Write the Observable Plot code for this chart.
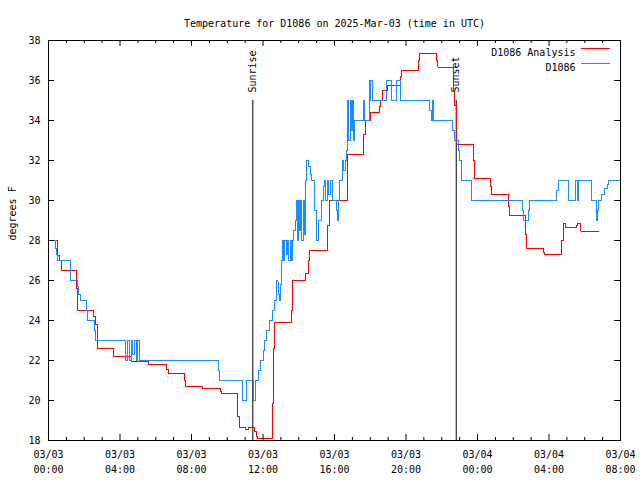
<!DOCTYPE html>
<html><head><meta charset="utf-8">
<script src="https://cdn.jsdelivr.net/npm/d3@7"></script>
<script src="https://cdn.jsdelivr.net/npm/@observablehq/plot@0.6"></script>
<style>body{margin:0;background:#fff}</style>
</head><body><div id="chart"></div>
<script>
const title = "Temperature for D1086 on 2025-Mar-03 (time in UTC)";
const yLabel = "degrees F";
const seriesNames = ["D1086 Analysis", "D1086"];
const seriesColors = ["#ff0000", "#1a8cff"];
const xTickHours = [0, 4, 8, 12, 16, 20, 24, 28, 32];
const xTickLabels = ["03/03\n00:00", "03/03\n04:00", "03/03\n08:00", "03/03\n12:00", "03/03\n16:00", "03/03\n20:00", "03/04\n00:00", "03/04\n04:00", "03/04\n08:00"];
const xMinorHours = [1,2,3,5,6,7,9,10,11,13,14,15,17,18,19,21,22,23,25,26,27,29,30,31];
const yTicks = [18, 20, 22, 24, 26, 28, 30, 32, 34, 36, 38];
const sunEvents = ["Sunrise", "Sunset"];
const sunHours = [11.43, 22.81];
const sunLineTop = 35;

// hours since 03/03 00:00 UTC, temperature (F)
const analysisHours = [0, 0.49, 0.6, 0.71, 1.57, 1.62, 2.54, 2.62, 2.73, 3.63, 4.64, 5.62, 6.6, 6.72, 7.6, 7.64, 8.6, 9.6, 9.68, 10.56, 10.6, 10.66, 11.0, 11.2, 11.55, 11.62, 11.7, 12.54, 12.58, 12.67, 13.6, 13.66, 14.4, 14.52, 14.62, 15.62, 15.72, 16.7, 17.62, 17.72, 18.0, 18.5, 18.57, 18.7, 18.95, 19.72, 19.77, 20.7, 20.76, 21.72, 21.79, 22.66, 22.72, 22.81, 23.75, 23.81, 24.72, 24.78, 25.72, 25.77, 26.7, 26.74, 27.72, 27.76, 28.7, 28.8, 28.94, 29.55, 29.6, 29.75, 29.78, 30.76];
const analysisTemps = [28, 27.25, 27, 26.5, 25.6, 24.5, 24.2, 23.8, 22.6, 22.2, 21.95, 21.8, 21.55, 21.37, 21.0, 20.7, 20.6, 20.45, 20.33, 19.8, 19.2, 18.67, 18.53, 18.67, 18.45, 18.2, 18.08, 19.85, 22.6, 23.9, 24.5, 26, 26.35, 27.0, 27.5, 28.75, 30, 32.3, 33.3, 34, 34.4, 34.7, 35, 35.5, 35.75, 36.2, 36.5, 37, 37.33, 37.0, 36.67, 35.5, 34.75, 32.8, 32, 31.1, 30.7, 30.3, 29.7, 29.25, 28.3, 27.6, 27.4, 27.3, 28, 28.83, 28.63, 28.75, 28.83, 28.6, 28.47, 28.47];

const obsHours = [0, 0.37, 0.45, 0.52, 1.22, 1.6, 1.7, 1.8, 2.12, 2.2, 2.56, 2.63, 4.32, 4.42, 4.52, 4.62, 4.72, 4.8, 4.9, 5.0, 5.08, 9.5, 9.55, 10.83, 11.05, 11.48, 11.6, 11.75, 11.84, 12.02, 12.1, 12.2, 12.35, 12.55, 12.65, 12.74, 12.78, 12.84, 12.91, 12.97, 13.02, 13.08, 13.15, 13.22, 13.3, 13.38, 13.45, 13.52, 13.58, 13.64, 13.72, 13.8, 13.86, 13.93, 13.98, 14.05, 14.1, 14.17, 14.24, 14.3, 14.35, 14.39, 14.44, 14.55, 14.65, 14.72, 14.88, 14.97, 15.12, 15.25, 15.38, 15.45, 15.52, 15.6, 15.68, 15.76, 15.9, 16.12, 16.18, 16.22, 16.29, 16.42, 16.52, 16.59, 16.65, 16.7, 16.74, 16.8, 16.87, 16.95, 17.02, 17.08, 17.11, 17.62, 17.66, 17.95, 18.0, 18.04, 18.1, 18.89, 19.2, 19.45, 19.68, 21.3, 21.4, 21.5, 21.56, 22.6, 22.72, 22.95, 23.0, 23.09, 23.69, 26.5, 26.6, 26.87, 26.92, 28.42, 28.51, 29.07, 29.5, 29.58, 29.67, 30.38, 30.65, 30.73, 30.78, 30.95, 31.1, 31.25, 31.32, 32.0];
const obsTemps = [28, 27.6, 27.3, 27, 26, 25.7, 25.3, 25, 24.5, 24, 23.5, 23, 22, 23, 22, 23, 22.3, 23, 22, 23, 22, 21.5, 21, 20, 21, 20, 21, 21.5, 22, 22.5, 23, 23.5, 24, 24.5, 25, 25.5, 26, 25.3, 25, 25.8, 27, 28, 27, 28, 27.3, 28, 27, 28, 27, 28, 28.5, 29, 30, 28, 30, 28.5, 30, 28, 30, 28.3, 30, 31, 32, 31.7, 31.3, 31, 29.5, 28, 29, 30, 30.7, 31, 30, 31, 30.3, 31, 30, 29.5, 29, 30, 31, 32, 31.5, 32, 32.5, 33.5, 35, 33, 35, 33.5, 35, 33, 34, 35, 34, 36, 35, 36, 35, 36, 35, 36, 35, 34.5, 34, 35, 34, 33.5, 33, 32.5, 32, 31, 30, 29.5, 29, 29.5, 30, 30.5, 31, 30, 31, 30, 31, 30, 29, 29.5, 30, 30.3, 30.6, 30.8, 31, 31];

const analysis = analysisHours.map((h, i) => ({h, v: analysisTemps[i]}));
const obs = obsHours.map((h, i) => ({h, v: obsTemps[i]}));

const W = 640, H = 480, mL = 48, mR = 20, mT = 40, mB = 40;
const fw = W - mL - mR, fh = H - mT - mB;
const font = "'DejaVu Sans Mono', monospace";

const chart = Plot.plot({
  width: W, height: H,
  marginLeft: mL, marginRight: mR, marginTop: mT, marginBottom: mB,
  style: {fontFamily: font, fontSize: "10px", background: "white", color: "black", overflow: "visible"},
  x: {domain: [0, 32], axis: null},
  y: {domain: [18, 38], axis: null},
  marks: [
    Plot.ruleX(sunHours, {x: d => d, y1: sunLineTop, y2: 18, stroke: "black", strokeWidth: 1}),
    Plot.text(sunEvents, {x: (d, i) => sunHours[i], y: sunLineTop, text: d => d, rotate: -90, textAnchor: "start", dy: -8, fill: "black"}),
    Plot.line(analysis, {x: "h", y: "v", curve: "step-after", stroke: seriesColors[0], strokeWidth: 1, shapeRendering: "crispEdges"}),
    Plot.line(obs, {x: "h", y: "v", curve: "step-after", stroke: seriesColors[1], strokeWidth: 1, shapeRendering: "crispEdges"}),
    // ticks (inward, mirrored)
    Plot.ruleX(xTickHours, {x: d => d, insetTop: fh - 6, stroke: "black"}),
    Plot.ruleX(xTickHours, {x: d => d, insetBottom: fh - 6, stroke: "black"}),
    Plot.ruleX(xMinorHours, {x: d => d, insetTop: fh - 3, stroke: "black"}),
    Plot.ruleX(xMinorHours, {x: d => d, insetBottom: fh - 3, stroke: "black"}),
    Plot.ruleY(yTicks, {y: d => d, insetRight: fw - 6, stroke: "black"}),
    Plot.ruleY(yTicks, {y: d => d, insetLeft: fw - 6, stroke: "black"}),
    Plot.frame({stroke: "black"}),
    // labels
    Plot.text(xTickHours, {x: d => d, text: (d, i) => xTickLabels[i], frameAnchor: "bottom", lineAnchor: "top", dy: 7, lineHeight: 1.5, fill: "black"}),
    Plot.text(yTicks, {y: d => d, text: d => String(d), frameAnchor: "left", textAnchor: "end", dx: -8, fill: "black"}),
    Plot.text([yLabel], {frameAnchor: "left", rotate: -90, dx: -36, fill: "black"}),
    Plot.text([title], {frameAnchor: "top", dy: -21, fill: "black"}),
    Plot.text(seriesNames, {frameAnchor: "top-right", text: d => d, textAnchor: "end", dx: -45, dy: (d, i) => 0, fill: "black", filter: (d, i) => i === 0, dy: 8}),
    Plot.text(seriesNames, {frameAnchor: "top-right", text: d => d, textAnchor: "end", dx: -45, fill: "black", filter: (d, i) => i === 1, dy: 23})
  ]
});

// legend line samples
const svg = d3.select(chart);
const lg = svg.append("g").attr("shape-rendering", "crispEdges");
seriesNames.forEach((name, i) => {
  const y = mT + 8 + i * 15 + 0.5;
  lg.append("line").attr("x1", W - mR - 39).attr("x2", W - mR - 10)
    .attr("y1", y).attr("y2", y).attr("stroke", seriesColors[i]).attr("stroke-width", 1);
});

document.getElementById("chart").appendChild(chart);
</script>
</body></html>
